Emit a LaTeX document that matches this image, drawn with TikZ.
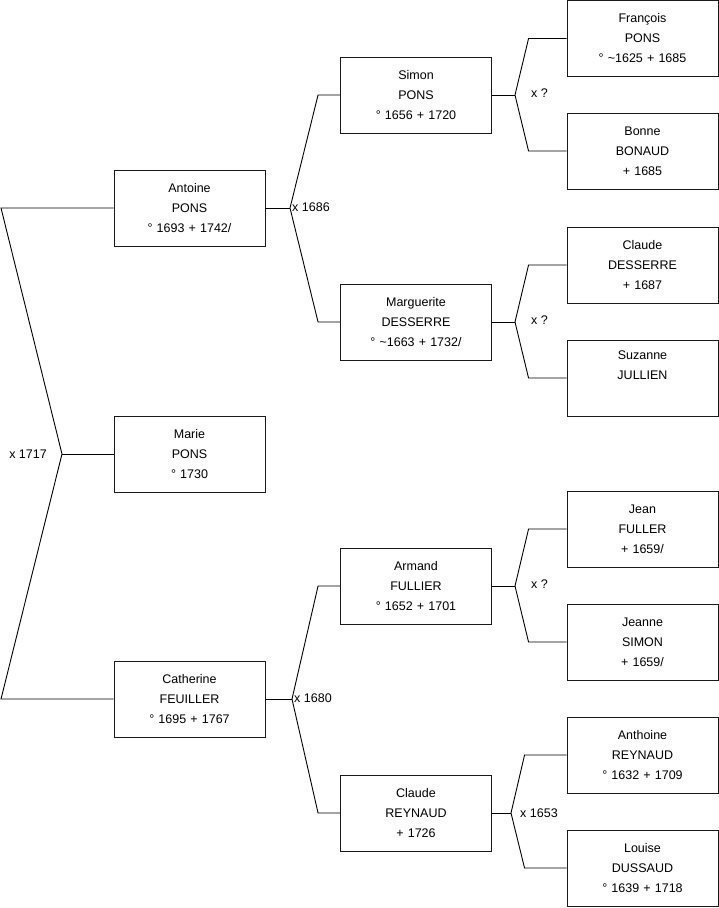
\documentclass[tikz,border=0pt]{standalone}
\usepackage{fontspec}
\setmainfont{Liberation Sans}
\usetikzlibrary{positioning,calc}
\definecolor{ink}{HTML}{000000}
\definecolor{bline}{HTML}{1A1A1A}

\begin{document}
\begin{tikzpicture}[
  x=1pt,y=-1pt,
  font=\fontsize{12.5}{20}\selectfont,
  person/.style={draw=bline, line width=0.9pt, fill=white, text=ink, align=center, minimum width=151pt, minimum height=76pt, text width=145pt, inner sep=0pt},
  link/.style={draw=ink, line width=0.9pt},
  wed/.style={anchor=west, inner sep=0pt, text=ink},
]
\useasboundingbox (0,0) rectangle (719,908);
% generation 1: child and parents
\node[person] (antoine) at (189.5,208) {Antoine\\PONS\\° 1693 + 1742/};
\node[person] (marie) at (189.5,454) {Marie\\PONS\\° 1730};
\node[person] (catherine) at (189.5,699) {Catherine\\FEUILLER\\° 1695 + 1767};
% generation 2: grandparents
\node[person] (simon) at (416,95) {Simon\\PONS\\° 1656 + 1720};
\node[person] (marguerite) at (416,322) {Marguerite\\DESSERRE\\° \textasciitilde 1663 + 1732/};
\node[person] (armand) at (416,586) {Armand\\FULLIER\\° 1652 + 1701};
\node[person] (claudeR) at (416,813) {Claude\\REYNAUD\\+ 1726};
% generation 3: great-grandparents
\node[person] (francois) at (642.5,38.5) {François\\PONS\\° \textasciitilde 1625 + 1685};
\node[person] (bonne) at (642.5,151) {Bonne\\BONAUD\\+ 1685};
\node[person] (claudeD) at (642.5,265) {Claude\\DESSERRE\\+ 1687};
\node[person] (suzanne) at (642.5,378) {Suzanne\\JULLIEN\\\strut};
\node[person] (jean) at (642.5,529) {Jean\\FULLER\\+ 1659/};
\node[person] (jeanne) at (642.5,642) {Jeanne\\SIMON\\+ 1659/};
\node[person] (anthoine) at (642.5,755) {Anthoine\\REYNAUD\\° 1632 + 1709};
\node[person] (louise) at (642.5,868) {Louise\\DUSSAUD\\° 1639 + 1718};
% marriage forks
\coordinate (f1717) at (62,454);
\coordinate (topL) at (1,208);
\coordinate (botL) at (1,699);
\coordinate (f1686) at (290,208);
\coordinate (fSimon) at (515,95);
\coordinate (fMarg) at (515,322);
\coordinate (f1680) at (292,699);
\coordinate (fArmand) at (515,586);
\coordinate (f1653) at (511,813);
\draw[link] (antoine.west) -- (topL) -- (f1717) -- (botL) -- (catherine.west);
\draw[link] (f1717) -- (marie.west);
\node[wed, left=15pt of f1717] (w1717) {x 1717};
\draw[link] (antoine.east) -- (f1686);
\draw[link] (simon.west) -- ++(-22,0) -- (f1686) -- ($(marguerite.west)+(-22,0)$) -- (marguerite.west);
\node[wed] (w1686) at ($(f1686)+(2,-1)$) {x 1686};
\draw[link] (catherine.east) -- (f1680);
\draw[link] (armand.west) -- ++(-22,0) -- (f1680) -- ($(claudeR.west)+(-22,0)$) -- (claudeR.west);
\node[wed] (w1680) at ($(f1680)+(2,-1)$) {x 1680};
\draw[link] (simon.east) -- (fSimon);
\draw[link] (francois.west) -- ++(-38,0) -- (fSimon) -- ($(bonne.west)+(-38,0)$) -- (bonne.west);
\node[wed] (wSimon) at ($(fSimon)+(16,-2)$) {x ?};
\draw[link] (marguerite.east) -- (fMarg);
\draw[link] (claudeD.west) -- ++(-38,0) -- (fMarg) -- ($(suzanne.west)+(-38,0)$) -- (suzanne.west);
\node[wed] (wMarg) at ($(fMarg)+(16,-2)$) {x ?};
\draw[link] (armand.east) -- (fArmand);
\draw[link] (jean.west) -- ++(-38,0) -- (fArmand) -- ($(jeanne.west)+(-38,0)$) -- (jeanne.west);
\node[wed] (wArmand) at ($(fArmand)+(16,-2)$) {x ?};
\draw[link] (claudeR.east) -- (f1653);
\draw[link] (anthoine.west) -- ++(-42,0) -- (f1653) -- ($(louise.west)+(-42,0)$) -- (louise.west);
\node[wed] (w1653) at ($(f1653)+(9,0)$) {x 1653};
\end{tikzpicture}
\end{document}
